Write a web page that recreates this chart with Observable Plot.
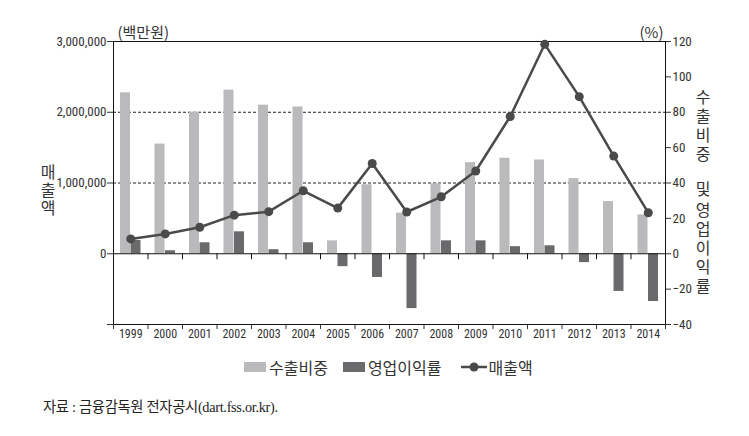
<!DOCTYPE html>
<html>
<head>
<meta charset="utf-8">
<script src="https://cdn.jsdelivr.net/npm/d3@7"></script>
<script src="https://cdn.jsdelivr.net/npm/@observablehq/plot@0.6"></script>
<style>
  html, body { margin: 0; padding: 0; background: #fff; }
  body { width: 749px; height: 436px; overflow: hidden; position: relative; font-family: "Noto Sans CJK KR", sans-serif; color: #333; }
  #chart { position: absolute; left: 0; top: 0; }
  .vlabel { position: absolute; writing-mode: vertical-rl; text-orientation: upright; font-size: 16px; line-height: 24px; width: 24px; color: #333; white-space: nowrap; }
  #ylabelL { left: 36px; top: 164px; letter-spacing: 2px; }
  #ylabelR { left: 691px; top: 89px; letter-spacing: 3px; }
  #ylabelR .gap1 { font-size: 15px; letter-spacing: 0.5px; }
  #ylabelR .gap2 { font-size: 2px; letter-spacing: 0; }
  #legend { position: absolute; left: 244px; top: 356px; height: 22px; display: flex; align-items: center; font-size: 16px; color: #333; white-space: nowrap; }
  #legend .item { display: flex; align-items: center; }
  #legend .sw { width: 22px; height: 10px; display: inline-block; margin-right: 3px; }
  #caption { position: absolute; left: 43px; top: 395px; font-size: 14.3px; letter-spacing: -0.3px; color: #222; white-space: nowrap; font-family: "Liberation Serif", "Noto Sans CJK KR", serif; }
</style>
</head>
<body>
<div id="chart"></div>
<div class="vlabel" id="ylabelL">매출액</div>
<div class="vlabel" id="ylabelR">수출비중<span class="gap1"> </span>및<span class="gap2"> </span>영업이익률</div>
<div id="legend"></div>
<div id="caption">자료 : 금융감독원 전자공시(dart.fss.or.kr).</div>
<script>
// ---- data ----
const years = [1999, 2000, 2001, 2002, 2003, 2004, 2005, 2006, 2007, 2008, 2009, 2010, 2011, 2012, 2013, 2014];
// 수출비중 (%)
const exportShare = [91, 62, 80, 92.5, 84, 83, 7.3, 39, 23, 39.5, 51.5, 54, 53, 42.5, 29.5, 22];
// 영업이익률 (%)
const opMargin = [7.5, 1.7, 6.2, 12.4, 2.3, 6.2, -7.3, -13.4, -31, 7.3, 7.3, 4, 4.5, -5, -21.3, -27];
// 매출액 (백만원)
const sales = [210000, 280000, 375000, 545000, 595000, 890000, 645000, 1275000, 590000, 805000, 1170000, 1940000, 2960000, 2220000, 1380000, 580000];
// axis ticks
const salesTicks = [-1000000, 0, 1000000, 2000000, 3000000];
const pctTicks = [-40, -20, 0, 20, 40, 60, 80, 100, 120];
const gridPct = [40, 80];
const seriesNames = ["수출비중", "영업이익률", "매출액"];
const colors = ["#bababc", "#6a6a6c", "#4a4a4a"];

// 매출액 axis maps onto the % axis: 3,000,000 ↔ 120
const ratio = 3000000 / 120;

const rows = years.map((year, i) => ({
  year, i,
  exp: exportShare[i],
  op: opMargin[i],
  s: sales[i] / ratio
}));

const numFont = "'Liberation Sans Narrow', 'Roboto Condensed', 'DejaVu Sans Condensed', 'Liberation Sans', sans-serif";
const fmt = d3.format(",");

const chart = Plot.plot({
  width: 749,
  height: 345,
  marginLeft: 113,
  marginRight: 84,
  marginTop: 41,
  marginBottom: 21,
  x: { type: "linear", domain: [0, years.length] },
  y: { domain: [-40, 120] },
  style: { fontFamily: numFont, fontSize: "13px", color: "#333", background: "#fff" },
  marks: [
    Plot.ruleY(gridPct, { stroke: "#222", strokeWidth: 1, strokeDasharray: "3,2" }),
    Plot.rectY(rows, { x1: "i", x2: d => d.i + 1, y1: 0, y2: "exp", fill: colors[0], insetLeft: 7, insetRight: 17.5 }),
    Plot.rectY(rows, { x1: "i", x2: d => d.i + 1, y1: 0, y2: "op", fill: colors[1], insetLeft: 17.5, insetRight: 7 }),
    Plot.ruleY([0], { stroke: "#111", strokeWidth: 1 }),
    Plot.ruleX(d3.range(1, years.length), { x: d => d, y1: 0, y2: 0, insetBottom: -6, stroke: "#111" }),
    Plot.frame({ stroke: "#111", strokeWidth: 1 }),
    Plot.line(rows, { x: d => d.i + 0.5, y: "s", stroke: colors[2], strokeWidth: 2.5 }),
    Plot.dot(rows, { x: d => d.i + 0.5, y: "s", r: 4.5, fill: colors[2], stroke: "none" }),
    Plot.axisY(salesTicks.map(v => v / ratio), {
      anchor: "left", tickSize: 6, tickPadding: 1, label: null,
      tickFormat: d => { const v = Math.round(d * ratio); return v < 0 ? "" : fmt(v); }
    }),
    Plot.axisY(pctTicks, { anchor: "right", tickSize: 5, tickPadding: 2, label: null }),
    Plot.axisX(d3.range(0, years.length + 1), { anchor: "bottom", tickSize: 5, tickFormat: () => "", label: null }),
    Plot.axisX(years.map((y, i) => i + 0.5), {
      anchor: "bottom", tickSize: 0, tickPadding: 5, label: null, fontSize: 12,
      tickFormat: d => String(years[Math.floor(d)])
    }),
    Plot.text(["(백만원)"], { frameAnchor: "top-left", dx: 4, dy: -14, textAnchor: "start", fontSize: 15, fontFamily: "Noto Sans CJK KR", fill: "#333" }),
    Plot.text(["(%)"], { frameAnchor: "top-right", dx: -2, dy: -14, textAnchor: "end", fontSize: 15, fontFamily: "Noto Sans CJK KR", fill: "#333" })
  ]
});
document.getElementById("chart").appendChild(chart);

// legend
const legend = document.getElementById("legend");
const gaps = [15, 19, 0];
seriesNames.forEach((name, k) => {
  const item = document.createElement("span");
  item.className = "item";
  item.style.marginRight = gaps[k] + "px";
  if (k < 2) {
    const sw = document.createElement("span");
    sw.className = "sw";
    sw.style.background = colors[k];
    item.appendChild(sw);
  } else {
    const ns = "http://www.w3.org/2000/svg";
    const svg = document.createElementNS(ns, "svg");
    svg.setAttribute("width", 26); svg.setAttribute("height", 12);
    svg.style.marginRight = "2px";
    const ln = document.createElementNS(ns, "line");
    ln.setAttribute("x1", 0); ln.setAttribute("x2", 26); ln.setAttribute("y1", 6); ln.setAttribute("y2", 6);
    ln.setAttribute("stroke", colors[2]); ln.setAttribute("stroke-width", 2.5);
    const c = document.createElementNS(ns, "circle");
    c.setAttribute("cx", 13); c.setAttribute("cy", 6); c.setAttribute("r", 4.5); c.setAttribute("fill", colors[2]);
    svg.appendChild(ln); svg.appendChild(c);
    item.appendChild(svg);
  }
  const t = document.createElement("span");
  t.textContent = name;
  item.appendChild(t);
  legend.appendChild(item);
});
</script>
</body>
</html>
